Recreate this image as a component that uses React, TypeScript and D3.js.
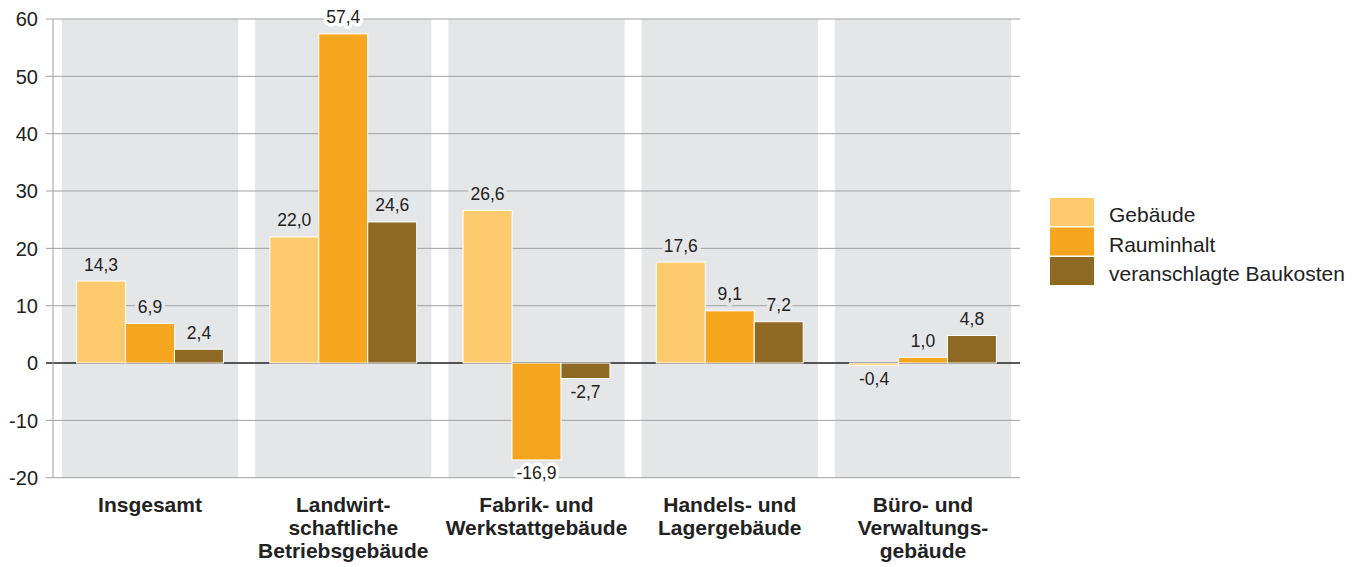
import * as d3 from 'd3';

const categories = [
  ['Insgesamt'],
  ['Landwirt-', 'schaftliche', 'Betriebsgebäude'],
  ['Fabrik- und', 'Werkstattgebäude'],
  ['Handels- und', 'Lagergebäude'],
  ['Büro- und', 'Verwaltungs-', 'gebäude'],
];
const seriesNames = ['Gebäude', 'Rauminhalt', 'veranschlagte Baukosten'];
const gebaeude = [14.3, 22.0, 26.6, 17.6, -0.4];
const rauminhalt = [6.9, 57.4, -16.9, 9.1, 1.0];
const baukosten = [2.4, 24.6, -2.7, 7.2, 4.8];
const yTicks = [-20, -10, 0, 10, 20, 30, 40, 50, 60];

const colors = ['#fdcb6e', '#f6a51f', '#8e6923'];
const bandColor = '#e5e6e8';
const font = '"Liberation Sans", Arial, Helvetica, sans-serif';

const width = 1353;
const height = 567;

export default function App() {
  const series = [gebaeude, rauminhalt, baukosten];
  const x = d3.scaleBand<number>()
    .domain(d3.range(categories.length))
    .range([53, 1020])
    .paddingInner(0.088)
    .paddingOuter(0.046);
  const y = d3.scaleLinear().domain([-20, 60]).range([477.7, 19]);
  const inner = d3.scaleBand<number>()
    .domain([0, 1, 2])
    .range([0, x.bandwidth()])
    .paddingOuter(0.3);
  const fmt = (v: number) => v.toFixed(1).replace('.', ',');

  return (
    <svg width={width} height={height} style={{ position: 'absolute', left: 0, top: 0, fontFamily: font }}>
      {/* background bands */}
      {categories.map((_, i) => (
        <rect key={'b' + i} x={x(i)} y={y(60)} width={x.bandwidth()} height={y(-20) - y(60)} fill={bandColor} />
      ))}
      {/* grid */}
      {yTicks.map((t) => (
        <g key={'g' + t}>
          <line x1={46} x2={1020} y1={y(t)} y2={y(t)} stroke={t === 0 ? '#222' : '#a0a0a0'} strokeWidth={t === 0 ? 1.5 : 1} />
          <text x={38} y={y(t)} dy="0.36em" textAnchor="end" fontSize={20} fill="#222">{t}</text>
        </g>
      ))}
      <line x1={53} x2={53} y1={y(60)} y2={y(-20)} stroke="#a0a0a0" />
      {/* bars */}
      {series.map((vals, s) =>
        vals.map((v, i) => {
          const bx = (x(i) ?? 0) + (inner(s) ?? 0);
          return (
            <rect key={`r${s}-${i}`} x={bx} y={Math.min(y(v), y(0))} width={inner.bandwidth()}
              height={Math.abs(y(v) - y(0))} fill={colors[s]} stroke="#fff" strokeWidth={1} />
          );
        })
      )}
      {/* value labels */}
      {series.map((vals, s) =>
        vals.map((v, i) => {
          const cx = (x(i) ?? 0) + (inner(s) ?? 0) + inner.bandwidth() / 2;
          const ty = v >= 0 ? y(v) - 10.5 : y(v) + 19.5;
          // labels near the frame edge sit on white, others on the grey band
          const halo = ty < y(60) + 8 || ty > y(-20) - 4 ? '#fff' : bandColor;
          return (
            <text key={`l${s}-${i}`} x={cx} y={ty} textAnchor="middle" fontSize={17.5} fill="#222"
              stroke={halo} strokeWidth={7} strokeLinejoin="round" paintOrder="stroke">
              {fmt(v)}
            </text>
          );
        })
      )}
      {/* category labels */}
      {categories.map((lines, i) => (
        <text key={'c' + i} x={(x(i) ?? 0) + x.bandwidth() / 2} y={512} textAnchor="middle" fontSize={21}
          fontWeight="bold" fill="#222">
          {lines.map((l, k) => (
            <tspan key={k} x={(x(i) ?? 0) + x.bandwidth() / 2} dy={k === 0 ? 0 : 23}>{l}</tspan>
          ))}
        </text>
      ))}
      {/* legend */}
      {seriesNames.map((n, s) => (
        <g key={'lg' + s} transform={`translate(1050, ${198 + s * 29.5})`}>
          <rect width={44} height={28} fill={colors[s]} />
          <text x={59} y={24} fontSize={21} fill="#222">{n}</text>
        </g>
      ))}
    </svg>
  );
}
